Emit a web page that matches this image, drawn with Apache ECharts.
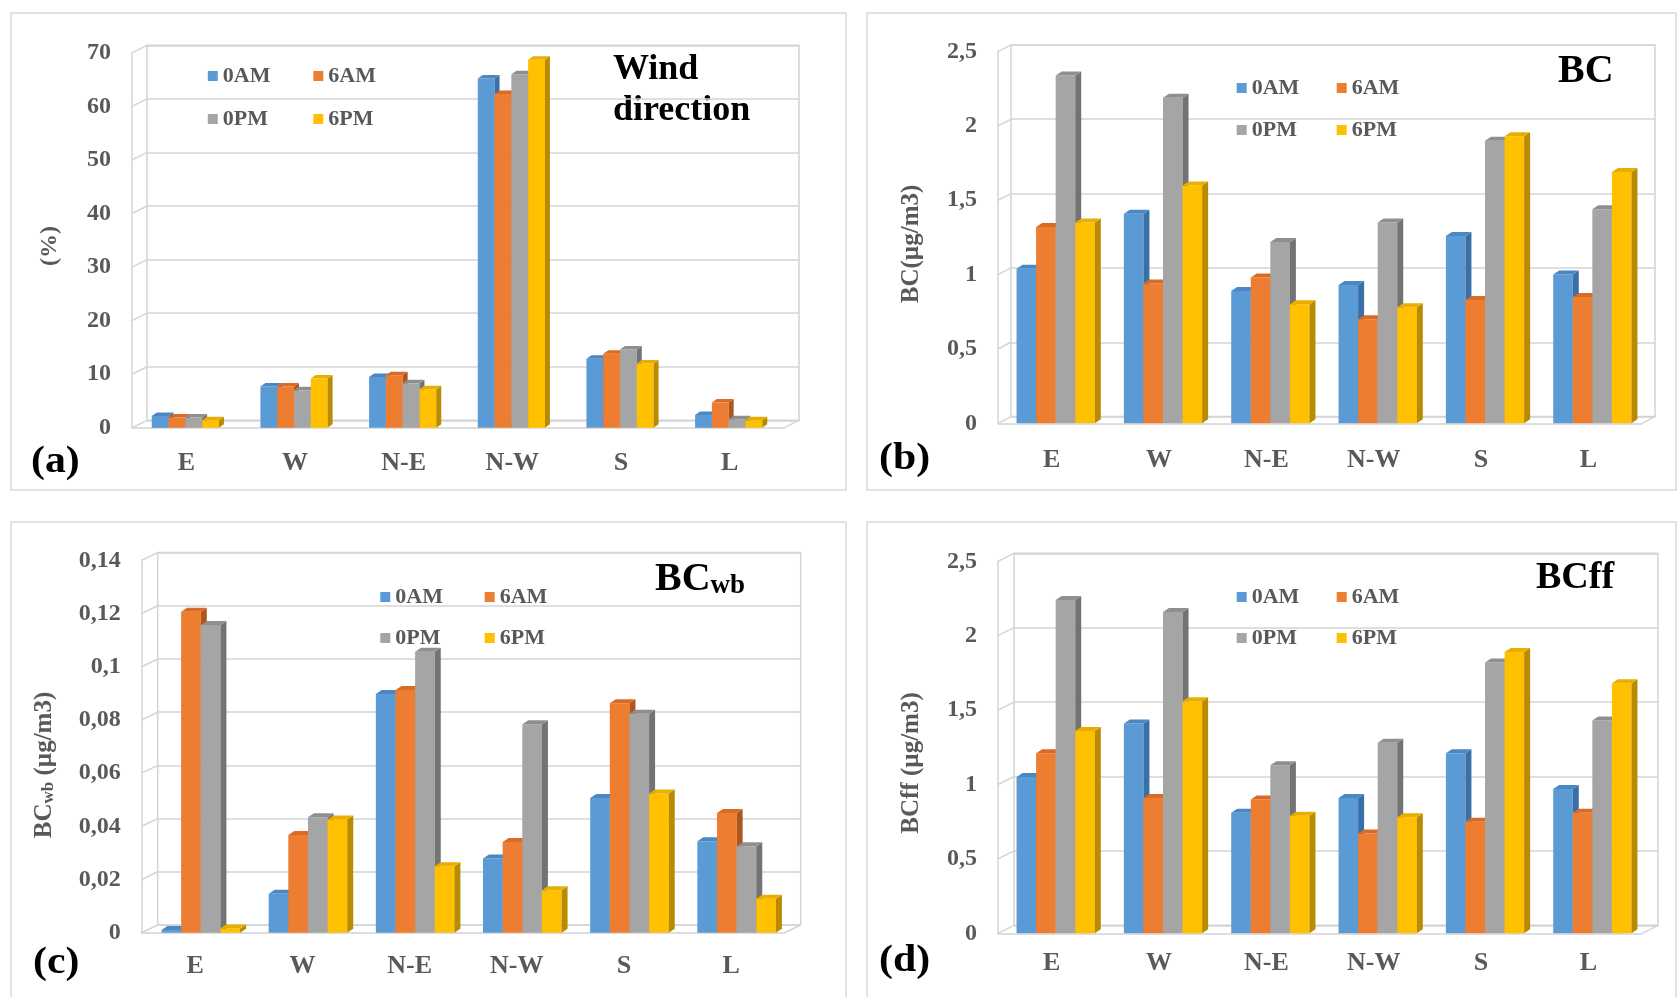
<!DOCTYPE html>
<html>
<head>
<meta charset="utf-8">
<script src="https://cdn.jsdelivr.net/npm/echarts@6/dist/echarts.min.js"></script>
<style>
html,body{margin:0;padding:0;background:#ffffff;}
#c{width:1679px;height:997px;}
</style>
</head>
<body>
<div id="c"></div>
<script>
// ---------------- DATA ----------------
const categories = ['E', 'W', 'N-E', 'N-W', 'S', 'L'];
const seriesNames = ['0AM', '6AM', '0PM', '6PM'];

// (a) Wind direction (%)
const windAM0 = [2.2, 7.7, 9.5, 65.2, 12.9, 2.4];
const windAM6 = [1.9, 7.7, 9.8, 62.3, 13.8, 4.7];
const windPM0 = [1.9, 7.0, 8.3, 66.0, 14.6, 1.6];
const windPM6 = [1.4, 9.2, 7.2, 68.7, 12.0, 1.4];

// (b) BC (µg/m3)
const bcAM0 = [1.04, 1.41, 0.89, 0.93, 1.26, 1.00];
const bcAM6 = [1.32, 0.94, 0.98, 0.70, 0.83, 0.85];
const bcPM0 = [2.34, 2.19, 1.22, 1.35, 1.90, 1.44];
const bcPM6 = [1.35, 1.60, 0.80, 0.78, 1.93, 1.69];

// (c) BCwb (µg/m3)
const bcwbAM0 = [0.001, 0.0146, 0.0897, 0.0279, 0.0506, 0.0344];
const bcwbAM6 = [0.1207, 0.0367, 0.0912, 0.0341, 0.0863, 0.045];
const bcwbPM0 = [0.1157, 0.0434, 0.1056, 0.0784, 0.0823, 0.0325];
const bcwbPM6 = [0.0016, 0.0426, 0.025, 0.016, 0.0523, 0.0128];

// (d) BCff (µg/m3)
const bcffAM0 = [1.05, 1.41, 0.81, 0.91, 1.21, 0.97];
const bcffAM6 = [1.21, 0.91, 0.90, 0.67, 0.75, 0.81];
const bcffPM0 = [2.24, 2.16, 1.13, 1.28, 1.82, 1.43];
const bcffPM6 = [1.36, 1.56, 0.79, 0.78, 1.89, 1.68];

// tick labels
const windTicks = [0, 10, 20, 30, 40, 50, 60, 70];
const bcTicks = [0, 0.5, 1, 1.5, 2, 2.5];
const bcwbTicks = [0, 0.02, 0.04, 0.06, 0.08, 0.1, 0.12, 0.14];
const bcffTicks = [0, 0.5, 1, 1.5, 2, 2.5];

// ---------------- STYLE / LAYOUT ----------------
const FONT = '"Liberation Serif","Times New Roman",serif';
const AXIS_GRAY = '#595959';
const LINE_GRAY = '#D4D4D4';
const faceColors = ['#5B9BD5', '#ED7D31', '#A5A5A5', '#FFC000'];
const sideColors = ['#3A70A6', '#B0561B', '#737373', '#B98B00'];
const topColors  = ['#4A87C4', '#D96B25', '#8F8F8F', '#E8AE00'];

const panels = [
  { values: [windAM0, windAM6, windPM0, windPM6], ticks: windTicks,
    left: 132, top: 52.8, width: 652, height: 375, wdx: 15, wdy: 7.5,
    frac: 0.618, shift: -1, bdx: 5, bdy: 3.5, catMargin: 22,
    legendLeft: [207.8, 313.3], legendTop: 65, legendGap: 21 },
  { values: [bcAM0, bcAM6, bcPM0, bcPM6], ticks: bcTicks,
    left: 998, top: 51.6, width: 644, height: 371.7, wdx: 13, wdy: 6.7,
    frac: 0.729, shift: 4, bdx: 6, bdy: 4, catMargin: 24,
    legendLeft: [1236.7, 1336.7], legendTop: 77, legendGap: 20 },
  { values: [bcwbAM0, bcwbAM6, bcwbPM0, bcwbPM6], ticks: bcwbTicks,
    left: 141.7, top: 560.3, width: 643, height: 372.4, wdx: 16, wdy: 7.7,
    frac: 0.733, shift: 5.5, bdx: 6, bdy: 4, catMargin: 21,
    legendLeft: [380.3, 484.7], legendTop: 586, legendGap: 19 },
  { values: [bcffAM0, bcffAM6, bcffPM0, bcffPM6], ticks: bcffTicks,
    left: 998, top: 561.3, width: 644, height: 372, wdx: 16, wdy: 8,
    frac: 0.729, shift: 4, bdx: 6, bdy: 4, catMargin: 17,
    legendLeft: [1236.7, 1336.7], legendTop: 586, legendGap: 19 }
];

function fmtComma(v) {
  return String(+Number(v).toFixed(4)).replace('.', ',');
}

function wallRenderer(p) {
  return function (params, api) {
    const cs = params.coordSys;
    const v = api.value(1);
    const y = api.coord([0, v])[1];
    const st = { stroke: LINE_GRAY, lineWidth: 1.5 };
    const children = [
      { type: 'line', shape: { x1: cs.x, y1: y, x2: cs.x + p.wdx, y2: y - p.wdy }, style: st }
    ];
    if (v === p.ticks[0]) {
      children.push({ type: 'line',
        shape: { x1: cs.x + cs.width, y1: y, x2: cs.x + cs.width + p.wdx, y2: y - p.wdy }, style: st });
    }
    return { type: 'group', children: children };
  };
}

function barRenderer(p, k) {
  return function (params, api) {
    const i = api.value(0);
    const v = api.value(1);
    const top = api.coord([i, v]);
    const base = api.coord([i, 0]);
    const band = api.size([1, 0])[0];
    const gw = band * p.frac;
    const w = gw / 4;
    const x0 = top[0] - gw / 2 + k * w + p.shift;
    const yT = top[1], yB = base[1];
    const dx = p.bdx, dy = p.bdy;
    return {
      type: 'group',
      children: [
        { type: 'rect', shape: { x: x0, y: yT, width: w, height: yB - yT },
          style: { fill: faceColors[k] } },
        { type: 'polygon', shape: { points: [[x0 + w, yT], [x0 + w + dx, yT - dy], [x0 + w + dx, yB - dy], [x0 + w, yB]] },
          style: { fill: sideColors[k] } },
        { type: 'polygon', shape: { points: [[x0, yT], [x0 + dx, yT - dy], [x0 + w + dx, yT - dy], [x0 + w, yT]] },
          style: { fill: topColors[k] } }
      ]
    };
  };
}

const grid = [], xAxis = [], yAxis = [], series = [], legend = [];

panels.forEach(function (p) {
  const min = p.ticks[0];
  const max = p.ticks[p.ticks.length - 1];
  const interval = p.ticks[1] - p.ticks[0];

  // back wall
  const gb = grid.length;
  grid.push({ left: p.left + p.wdx, top: p.top - p.wdy, width: p.width, height: p.height,
    show: true, borderColor: LINE_GRAY, borderWidth: 1.5, backgroundColor: 'transparent',
    outerBoundsMode: 'none' });
  xAxis.push({ gridIndex: gb, type: 'category', data: categories, show: false });
  yAxis.push({ gridIndex: gb, type: 'value', min: min, max: max, interval: interval,
    axisLine: { show: false }, axisTick: { show: false }, axisLabel: { show: false },
    splitLine: { show: true, lineStyle: { color: LINE_GRAY, width: 1.5 } } });

  // front plane
  const gf = grid.length;
  grid.push({ left: p.left, top: p.top, width: p.width, height: p.height, outerBoundsMode: 'none' });
  xAxis.push({ gridIndex: gf, type: 'category', data: categories,
    axisLine: { show: true, lineStyle: { color: LINE_GRAY, width: 1.5 } },
    axisTick: { show: false },
    axisLabel: { margin: p.catMargin, fontFamily: FONT, fontSize: 26, fontWeight: 'bold',
      color: AXIS_GRAY, lineHeight: 26, interval: 0 } });
  yAxis.push({ gridIndex: gf, type: 'value', min: min, max: max, interval: interval,
    axisLine: { show: true, lineStyle: { color: LINE_GRAY, width: 1.5 } },
    axisTick: { show: false }, splitLine: { show: false },
    axisLabel: { margin: 21, fontFamily: FONT, fontSize: 24, fontWeight: 'bold',
      color: AXIS_GRAY, formatter: fmtComma, padding: [10, 0, 0, 0] } });

  series.push({ type: 'custom', name: 'wall', xAxisIndex: gf, yAxisIndex: gf, silent: true,
    clip: false, z: 1, data: p.ticks.map(function (t) { return [0, t]; }),
    encode: { x: 0, y: 1 }, renderItem: wallRenderer(p) });

  seriesNames.forEach(function (nm, k) {
    series.push({ type: 'custom', name: nm, xAxisIndex: gf, yAxisIndex: gf, silent: true,
      clip: false, z: 2, itemStyle: { color: faceColors[k] },
      data: p.values[k].map(function (v, i) { return [i, v]; }),
      encode: { x: 0, y: 1 }, renderItem: barRenderer(p, k) });
  });

  [[0, 2], [1, 3]].forEach(function (pair, col) {
    legend.push({ left: p.legendLeft[col], top: p.legendTop, orient: 'vertical',
      padding: 0, itemGap: p.legendGap, itemWidth: 10, itemHeight: 10, icon: 'rect',
      selectedMode: false,
      data: pair.map(function (k) { return { name: seriesNames[k], itemStyle: { color: faceColors[k] } }; }),
      textStyle: { fontFamily: FONT, fontSize: 22, fontWeight: 'bold', color: AXIS_GRAY, lineHeight: 22 } });
  });
});

function txt(x, y, text, size, color, align, extra) {
  return Object.assign({ type: 'text', x: x, y: y, silent: true,
    style: { text: text, fontFamily: FONT, fontSize: size, fontWeight: 'bold', fill: color,
      align: align, verticalAlign: 'middle' } }, extra || {});
}

function richTitle(x, y, big, small, tail, bigSize, smallSize, color, align, extra) {
  return Object.assign({ type: 'text', x: x, y: y, silent: true,
    style: {
      text: '{b|' + big + '}{s|' + small + '}' + (tail ? '{b|' + tail + '}' : ''),
      align: align, verticalAlign: 'middle',
      rich: {
        b: { fontFamily: FONT, fontSize: bigSize, fontWeight: 'bold', fill: color, lineHeight: bigSize, verticalAlign: 'bottom' },
        s: { fontFamily: FONT, fontSize: smallSize, fontWeight: 'bold', fill: color, lineHeight: smallSize, verticalAlign: 'bottom' }
      }
    } }, extra || {});
}

const borderStyle = { fill: 'none', stroke: '#D9D9D9', lineWidth: 1.5 };
const rot = { rotation: Math.PI / 2 };
const graphic = [
  { type: 'rect', silent: true, z: -10, shape: { x: 11, y: 13, width: 835, height: 477 }, style: borderStyle },
  { type: 'rect', silent: true, z: -10, shape: { x: 867, y: 13, width: 809, height: 477 }, style: borderStyle },
  { type: 'rect', silent: true, z: -10, shape: { x: 11, y: 522, width: 835, height: 490 }, style: borderStyle },
  { type: 'rect', silent: true, z: -10, shape: { x: 867, y: 522, width: 809, height: 490 }, style: borderStyle },

  // panel titles
  txt(613, 70, 'Wind', 36, '#000000', 'left'),
  txt(613, 111, 'direction', 36, '#000000', 'left'),
  txt(1558, 71.5, 'BC', 40, '#000000', 'left'),
  richTitle(655, 580, 'BC', 'wb', '', 40, 27, '#000000', 'left'),
  richTitle(1536, 578, 'BC', 'ff', '', 38, 38, '#000000', 'left'),

  // y-axis titles
  txt(50, 246, '(%)', 24, AXIS_GRAY, 'center', rot),
  txt(912, 244, 'BC(µg/m3)', 25, AXIS_GRAY, 'center', rot),
  richTitle(45, 765, 'BC', 'wb', ' (µg/m3)', 25, 17, AXIS_GRAY, 'center', rot),
  richTitle(912, 763, 'BC', 'ff', ' (µg/m3)', 25, 25, AXIS_GRAY, 'center', rot),

  // panel letters
  txt(31, 462, '(a)', 38, '#000000', 'left', { scaleX: 1.1 }),
  txt(879, 459, '(b)', 38, '#000000', 'left', { scaleX: 1.1 }),
  txt(33, 963, '(c)', 38, '#000000', 'left', { scaleX: 1.1 }),
  txt(879, 961, '(d)', 38, '#000000', 'left', { scaleX: 1.1 })
];

const chart = echarts.init(document.getElementById('c'), null, { renderer: 'canvas' });
chart.setOption({
  backgroundColor: '#ffffff',
  animation: false,
  tooltip: { show: false },
  grid: grid,
  xAxis: xAxis,
  yAxis: yAxis,
  legend: legend,
  series: series,
  graphic: graphic
});
</script>
</body>
</html>
